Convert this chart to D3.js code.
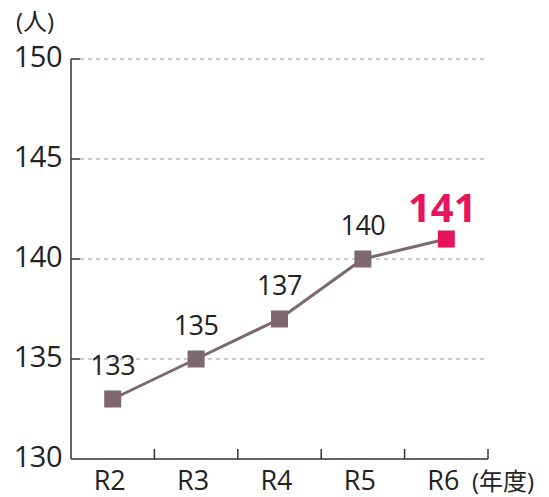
<!DOCTYPE html>
<html>
<head>
<meta charset="utf-8">
<script src="https://cdn.jsdelivr.net/npm/d3@7"></script>
<style>
  body { margin: 0; background: #fff; }
  text { font-family: "Open Sans", "Noto Sans CJK JP", sans-serif; fill: #222; }
</style>
</head>
<body>
<script>
var years  = ["R2", "R3", "R4", "R5", "R6"];
var people = [133, 135, 137, 140, 141];
var yTicks = [130, 135, 140, 145, 150];

var width = 549, height = 497;

var svg = d3.select("body").append("svg")
    .attr("width", width)
    .attr("height", height);

// scales
var x = d3.scaleBand().domain(years).range([71, 488]);
var y = d3.scaleLinear().domain([130, 150]).range([459, 59]);
var cx = function(d) { return x(d) + x.bandwidth() / 2; };

// dashed grid
svg.selectAll(".grid")
    .data(yTicks.slice(1))
    .enter().append("line")
    .attr("x1", 80).attr("x2", 486)
    .attr("y1", function(d) { return y(d); })
    .attr("y2", function(d) { return y(d); })
    .style("stroke", "#999")
    .style("stroke-width", 1)
    .style("stroke-dasharray", "4,4");

// short solid ticks on y axis
svg.selectAll(".ytick")
    .data(yTicks.slice(1))
    .enter().append("line")
    .attr("x1", 71).attr("x2", 80)
    .attr("y1", function(d) { return y(d); })
    .attr("y2", function(d) { return y(d); })
    .style("stroke", "#333")
    .style("stroke-width", 1.5);

svg.selectAll(".ylab")
    .data(yTicks)
    .enter().append("text")
    .attr("x", 62)
    .attr("y", function(d) { return y(d) + 8; })
    .style("text-anchor", "end")
    .style("font-size", "29px")
    .style("letter-spacing", "-0.5px")
    .text(function(d) { return d; });

// axes lines
svg.append("line")
    .attr("x1", 71).attr("x2", 71)
    .attr("y1", y(150)).attr("y2", y(130))
    .style("stroke", "#333").style("stroke-width", 1.5);
svg.append("line")
    .attr("x1", 71).attr("x2", x.range()[1])
    .attr("y1", y(130)).attr("y2", y(130))
    .style("stroke", "#333").style("stroke-width", 1.5);

svg.selectAll(".xtick")
    .data(years)
    .enter().append("line")
    .attr("x1", function(d) { return x(d) + x.bandwidth(); })
    .attr("x2", function(d) { return x(d) + x.bandwidth(); })
    .attr("y1", y(130)).attr("y2", y(130) - 10)
    .style("stroke", "#333").style("stroke-width", 1.5);

svg.selectAll(".xlab")
    .data(years)
    .enter().append("text")
    .attr("x", function(d) { return cx(d) - 3; })
    .attr("y", 490)
    .style("text-anchor", "middle")
    .style("font-size", "27px")
    .text(function(d) { return d; });

svg.append("text")
    .attr("x", 472).attr("y", 490)
    .style("font-size", "24px")
    .text("(年度)");

svg.append("text")
    .attr("x", 16).attr("y", 30)
    .style("font-size", "24px")
    .text("(人)");

// line
var pts = years.map(function(d, i) { return {year: d, v: people[i]}; });
var line = d3.line()
    .x(function(d) { return cx(d.year); })
    .y(function(d) { return y(d.v); });

svg.append("path")
    .datum(pts)
    .attr("d", line)
    .style("fill", "none")
    .style("stroke", "#7d6870")
    .style("stroke-width", 3);

svg.selectAll(".pt")
    .data(pts)
    .enter().append("rect")
    .attr("x", function(d) { return cx(d.year) - 8.5; })
    .attr("y", function(d) { return y(d.v) - 8.5; })
    .attr("width", 17).attr("height", 17)
    .style("fill", function(d, i) { return i === pts.length - 1 ? "#e8135d" : "#7d6870"; });

svg.selectAll(".val")
    .data(pts)
    .enter().append("text")
    .attr("x", function(d, i) { return cx(d.year) + (i === pts.length - 1 ? -4 : 0); })
    .attr("y", function(d, i) { return y(d.v) - (i === pts.length - 1 ? 17 : 24); })
    .style("text-anchor", "middle")
    .style("font-size", function(d, i) { return i === pts.length - 1 ? "40px" : "27px"; })
    .style("font-weight", function(d, i) { return i === pts.length - 1 ? 700 : 400; })
    .style("letter-spacing", function(d, i) { return i === pts.length - 1 ? "0px" : "-0.5px"; })
    .style("fill", function(d, i) { return i === pts.length - 1 ? "#e8135d" : "#222"; })
    .text(function(d) { return d.v; });
</script>
</body>
</html>
